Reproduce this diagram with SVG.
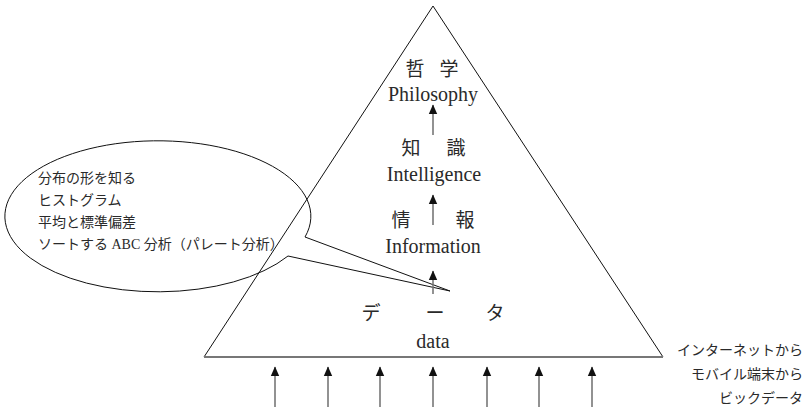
<svg xmlns="http://www.w3.org/2000/svg" width="811" height="407" viewBox="0 0 811 407">
<style>
.t{font-family:"Liberation Serif","Noto Sans CJK JP",serif;fill:#2a2a2a}
.big{font-size:20px;text-anchor:middle}
.jp{font-size:19px;text-anchor:middle}
.sm{font-size:14px}
.edge{stroke:#111;stroke-width:1;fill:none}
.arr{stroke:#777;stroke-width:1.6;fill:none}
</style>
<defs>
<marker id="ah" markerUnits="userSpaceOnUse" markerWidth="10" markerHeight="10" viewBox="0 0 10 10" refX="9" refY="5" orient="auto">
<path d="M0,0.8 L9.5,5 L0,9.2 Z" fill="#111"/>
</marker>
</defs>
<g id="pyramid">
<path class="edge" d="M204,357 L433,6 L663,357"/>
<line x1="204" y1="357" x2="663" y2="357" stroke="#777" stroke-width="2"/>
</g>
<g id="philosophy">
<text class="t jp" x="415" y="76">哲</text>
<text class="t jp" x="449" y="76">学</text>
<text class="t big" x="433" y="101">Philosophy</text>
</g>
<g id="intelligence">
<text class="t jp" x="411" y="155">知</text>
<text class="t jp" x="456" y="155">識</text>
<text class="t big" x="434" y="181">Intelligence</text>
</g>
<g id="information">
<text class="t jp" x="401" y="227">情</text>
<text class="t jp" x="465" y="227">報</text>
<text class="t big" x="433" y="253">Information</text>
</g>
<g id="data">
<text class="t jp" x="371" y="320">デ</text>
<text class="t jp" x="435" y="320">ー</text>
<text class="t jp" x="495" y="320">タ</text>
<text class="t big" x="433" y="348">data</text>
</g>
<g id="callout">
<path class="edge" d="M305,237 A153,75.5 0 1 0 288,256 L450,291 Z"/>
<text class="t sm" x="38" y="183">分布の形を知る</text>
<text class="t sm" x="38" y="205">ヒストグラム</text>
<text class="t sm" x="38" y="227">平均と標準偏差</text>
<text class="t sm" x="38" y="249">ソートする ABC 分析（パレート分析）</text>
</g>
<g id="sources">
<text class="t sm" x="803" y="355" text-anchor="end">インターネットから</text>
<text class="t sm" x="803" y="379" text-anchor="end">モバイル端末から</text>
<text class="t sm" x="803" y="403" text-anchor="end">ビックデータ</text>
</g>
<g id="connectors">
<line class="arr" x1="433" y1="135" x2="433" y2="105" marker-end="url(#ah)"/>
<line class="arr" x1="433" y1="225" x2="433" y2="195" marker-end="url(#ah)"/>
<line class="arr" x1="433" y1="294" x2="433" y2="271" marker-end="url(#ah)"/>
<line class="arr" x1="275" y1="407" x2="275" y2="367" marker-end="url(#ah)"/>
<line class="arr" x1="328" y1="407" x2="328" y2="367" marker-end="url(#ah)"/>
<line class="arr" x1="380" y1="407" x2="380" y2="367" marker-end="url(#ah)"/>
<line class="arr" x1="433" y1="407" x2="433" y2="367" marker-end="url(#ah)"/>
<line class="arr" x1="487" y1="407" x2="487" y2="367" marker-end="url(#ah)"/>
<line class="arr" x1="539" y1="407" x2="539" y2="367" marker-end="url(#ah)"/>
<line class="arr" x1="592" y1="407" x2="592" y2="367" marker-end="url(#ah)"/>
</g>
</svg>
